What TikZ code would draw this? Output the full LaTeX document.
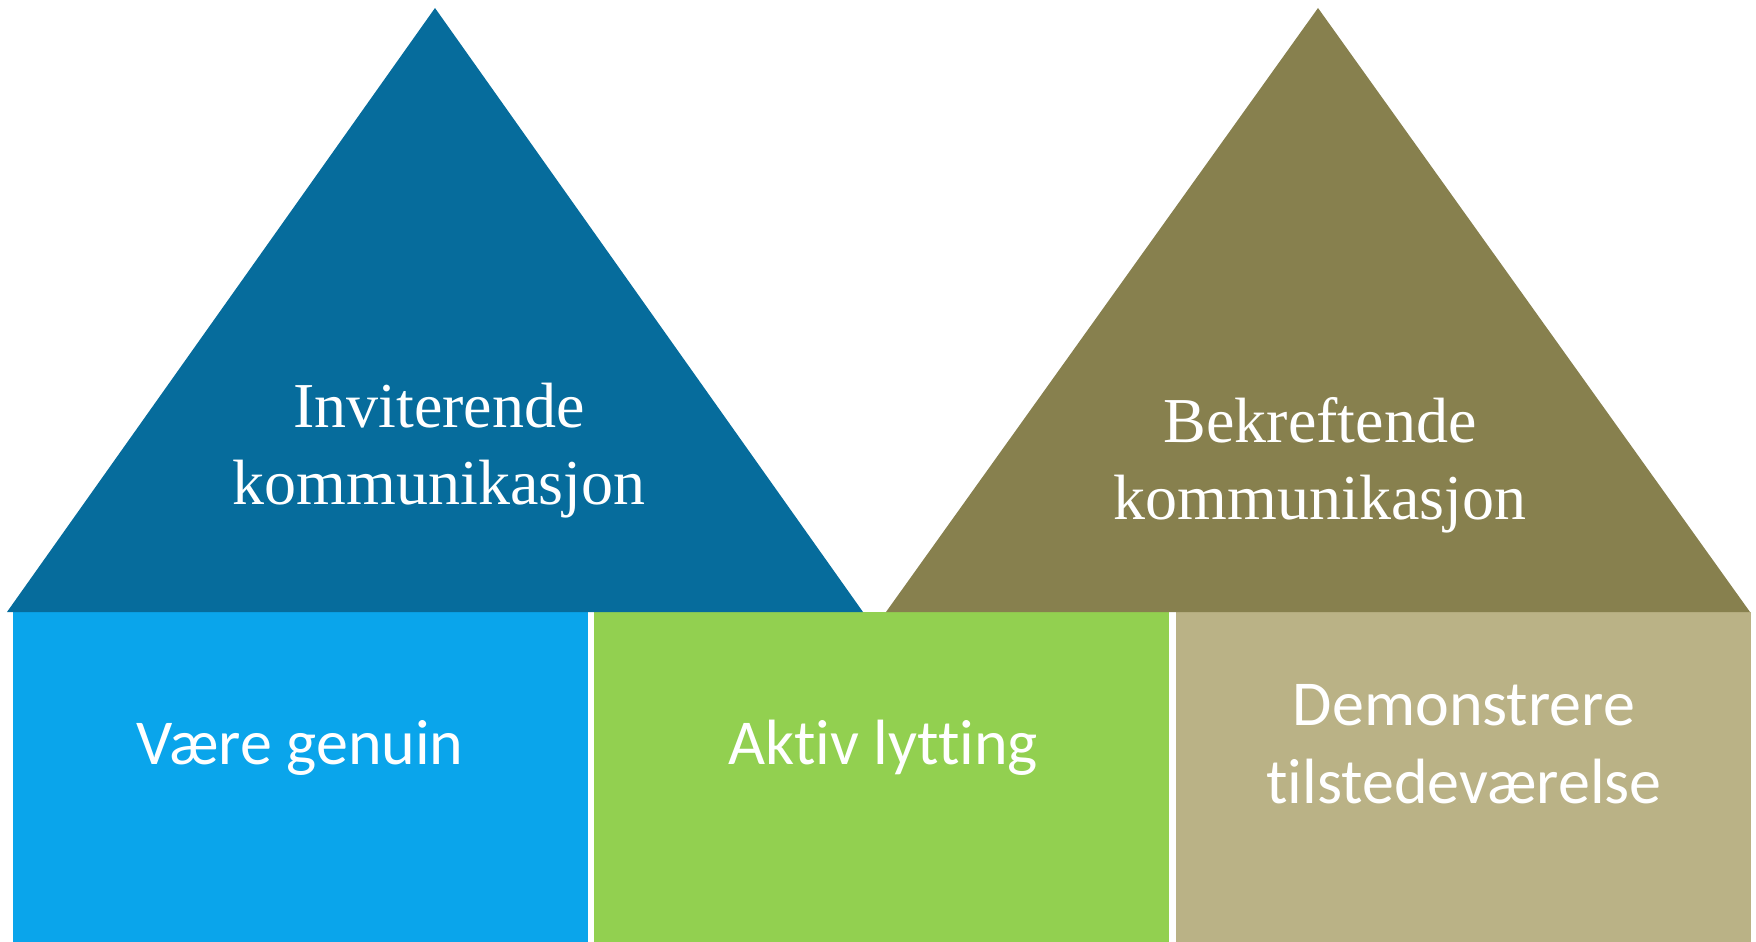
\documentclass[tikz,border=0pt]{standalone}
\usepackage{fontspec}
\setmainfont{Liberation Serif}
\newfontfamily\pillarfont[Ligatures=CommonOff]{Carlito}
\usetikzlibrary{positioning}
\definecolor{roofblue}{HTML}{066C9C}
\definecolor{roofolive}{HTML}{87804E}
\definecolor{pillarblue}{HTML}{0AA5EB}
\definecolor{pillargreen}{HTML}{92D050}
\definecolor{pillarkhaki}{HTML}{BAB286}

\begin{document}
\begin{tikzpicture}[x=1pt, y=-1pt,
    rooftext/.style={text=white, align=center, anchor=base,
      font=\fontsize{64}{77}\selectfont},
    pillartext/.style={text=white, align=center, anchor=base,
      font=\pillarfont\fontsize{64}{77.5}\selectfont}]

      \useasboundingbox (0,0) rectangle (1756,942);

      % Pillars
      \fill[pillarblue] (13,612) rectangle (588,942);
      \fill[pillargreen] (594,612) rectangle (1169,942);
      \fill[pillarkhaki] (1176,612) rectangle (1751,942);

      % Roofs
      \fill[roofblue] (7,612) -- (435,8) -- (863,612) -- cycle;
      \fill[roofolive] (886,612) -- (1318,8) -- (1750,612) -- cycle;

      % Labels (base anchor sits on the last line)
      \node[rooftext] (inviterende) at (439,504) {Inviterende\\kommunikasjon};
      \node[rooftext] (bekreftende) at (1320,519) {Bekreftende\\kommunikasjon};
      \node[pillartext] (genuin) at (300,764) {Være genuin};
      \node[pillartext] (lytting) at (883,764) {Aktiv lytting};
      \node[pillartext] (tilstede) at (1464,803) {Demonstrere\\tilstedeværelse};

    \end{tikzpicture}
\end{document}
